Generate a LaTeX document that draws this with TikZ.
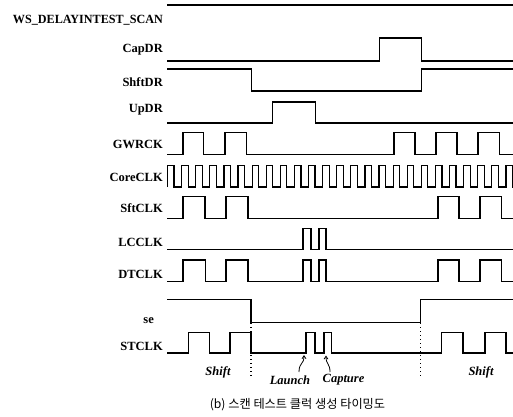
\documentclass[tikz,border=0pt]{standalone}
\usepackage{fontspec}
\setmainfont{Liberation Serif}
\newfontfamily\krfont{Noto Sans CJK KR}
\usetikzlibrary{arrows.meta}
\begin{document}
\begin{tikzpicture}[x=1pt,y=-1pt,
  sig/.style={line width=1.2pt, line join=miter},
  lbl/.style={anchor=east, inner sep=0pt, font=\fontsize{12.5}{14}\selectfont\bfseries},
  ann/.style={inner sep=0pt, font=\fontsize{12.5}{14}\selectfont\bfseries\itshape},
  guide/.style={line width=1.2pt, dash pattern=on 1.4pt off 2.6pt},
  callout/.style={line width=0.8pt, -{Straight Barb[length=3pt,width=4pt]}}]
\useasboundingbox (0,0) rectangle (513,416);

% labels
\node[lbl] (lWS)   at (163,20)  {\scalebox{0.97}[1]{WS\_DELAYINTEST\_SCAN}};
\node[lbl] (lCap)  at (163,50)  {CapDR};
\node[lbl] (lShft) at (163,82)  {ShftDR};
\node[lbl] (lUp)   at (163,110) {UpDR};
\node[lbl] (lGW)   at (163,144) {GWRCK};
\node[lbl] (lCore) at (163,177) {CoreCLK};
\node[lbl] (lSft)  at (163,208) {SftCLK};
\node[lbl] (lLC)   at (163,242) {LCCLK};
\node[lbl] (lDT)   at (163,274) {DTCLK};
\node[lbl] (lse)   at (154,321) {se};
\node[lbl] (lST)   at (163,346) {STCLK};

% WS_DELAYINTEST_SCAN
\draw[sig] (167,5) -- (513,5);
% CapDR
\draw[sig] (167,61) -- (379.5,61) -- (379.5,38) -- (421.7,38) -- (421.7,61) -- (513,61);
% ShftDR
\draw[sig] (167,69) -- (251.7,69) -- (251.7,91) -- (421.7,91) -- (421.7,69) -- (513,69);
% UpDR
\draw[sig] (167,123) -- (272.7,123) -- (272.7,102) -- (315.7,102) -- (315.7,123) -- (513,123);
% GWRCK
\draw[sig] (167,154.5) \foreach \a/\b in {183/203.5,225/246.5,394/415,436/457,478/499.5}{ -- (\a,154.5) -- (\a,132.5) -- (\b,132.5) -- (\b,154.5) } -- (513,154.5);
% CoreCLK
\draw[sig] (167.5,187) \foreach \k in {0,...,24}{ -- ({167.5+14.1*\k},187) -- ({167.5+14.1*\k},165.5) -- ({174+14.1*\k},165.5) -- ({174+14.1*\k},187) } -- (513,187);
% SftCLK
\draw[sig] (167,218.5) \foreach \a/\b in {183/205,226/248,438/459,480/501.3}{ -- (\a,218.5) -- (\a,196.5) -- (\b,196.5) -- (\b,218.5) } -- (513,218.5);
% LCCLK
\draw[sig] (167,249.5) \foreach \a/\b in {303/311,319/326}{ -- (\a,249.5) -- (\a,228.5) -- (\b,228.5) -- (\b,249.5) } -- (513,249.5);
% DTCLK
\draw[sig] (167,281.5) \foreach \a/\b in {183/205.5,226/248,303/311,319/326,438/459,480/501.3}{ -- (\a,281.5) -- (\a,260) -- (\b,260) -- (\b,281.5) } -- (513,281.5);
% se
\draw[sig] (167,299.5) -- (251,299.5) -- (251,322.5) -- (420.5,322.5) -- (420.5,299.5) -- (513,299.5);
% STCLK
\draw[sig] (167,353) \foreach \a/\b in {188.5/209.5,230/251,306/315,324/331.7,441.5/463,485/506}{ -- (\a,353) -- (\a,332.5) -- (\b,332.5) -- (\b,353) } -- (513,353);

% guides
\coordinate (g1t) at (251,323);
\coordinate (g1b) at (251,377);
\coordinate (g2t) at (420.5,323);
\coordinate (g2b) at (420.5,377);
\draw[guide] (g1t) -- (g1b);
\draw[guide] (g2t) -- (g2b);

% annotations
\node[ann] (sh1) at (218,372) {Shift};
\node[ann] (sh2) at (481,372) {Shift};
\node[ann] (lau) at (290,380) {Launch};
\node[ann] (capt) at (343.5,380) {Capture};
\coordinate (lautip) at (304,355);
\coordinate (captip) at (326,355.5);
\draw[callout] (299,372) .. controls (299,362) and (304,365) .. (lautip);
\draw[callout] (330,372) .. controls (330,363) and (326,365) .. (captip);

% caption
\node[inner sep=0pt, font=\krfont\fontsize{12.2}{14}\selectfont] (cap) at (297.5,405) {(b) 스캔 테스트 클럭 생성 타이밍도};
\end{tikzpicture}
\end{document}
